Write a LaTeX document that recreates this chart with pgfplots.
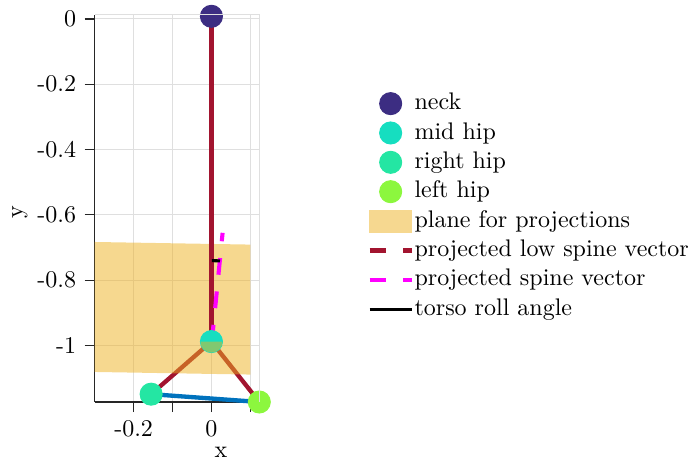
\documentclass[border=0pt]{standalone}
\usepackage{pgfplots}
\pgfplotsset{compat=1.18}
\definecolor{cneck}{RGB}{60,45,130}
\definecolor{cmid}{RGB}{22,222,192}
\definecolor{cmidT}{RGB}{128,200,112}
\definecolor{cright}{RGB}{36,230,163}
\definecolor{cleft}{RGB}{140,247,62}
\definecolor{cplane}{RGB}{237,177,32}
\definecolor{cplaneL}{RGB}{246,216,144}
\definecolor{cred}{RGB}{162,20,47}
\definecolor{cblue}{RGB}{0,114,189}
\definecolor{cmag}{RGB}{255,0,255}
\definecolor{cgrid}{RGB}{223,223,223}
\definecolor{caxis}{RGB}{38,38,38}
\pgfdeclareplotmark{lowhalf}{%
  \pgfpathmoveto{\pgfqpoint{\pgfplotmarksize}{0pt}}%
  \pgfpatharc{0}{-180}{\pgfplotmarksize}%
  \pgfpathclose
  \pgfusepathqfill}
\begin{document}
\begin{tikzpicture}
\useasboundingbox (-39.46pt,-27.08pt) rectangle (248.87pt,167.5pt);
\begin{axis}[
  at={(0,0)}, anchor=south west,
  scale only axis, width=68.58pt, height=161.38pt,
  xmin=-0.3, xmax=0.123, ymin=-1.173, ymax=0.013,
  axis x line*=bottom, axis y line*=left,
  axis line style={caxis, line width=0.5pt, -},
  xtick={-0.2,-0.1,0,0.1}, xticklabels={-0.2,,0,},
  ytick={-1,-0.8,-0.6,-0.4,-0.2,0}, yticklabels={-1,-0.8,-0.6,-0.4,-0.2,0},
  tick align=outside, major tick length=4.2pt,
  tick style={caxis, line width=0.5pt},
  grid=major, major grid style={cgrid, line width=0.4pt},
  xlabel={x}, ylabel={y},
  xlabel style={at={(axis description cs:0.767,0)}, anchor=center, yshift=-20.8pt},
  ylabel style={at={(axis description cs:0,0.49)}, anchor=center, yshift=31.2pt},
  clip=false,
  extra description/.code={\draw[cgrid, line width=0.5pt] (0,1) -- (1,1) -- (1,0);},
  legend cell align=left,
  legend style={draw=none, fill=none, at={(1.6545,0.8095)}, anchor=north west,
    inner sep=0pt, row sep=0pt, font=\normalsize,
    nodes={inner xsep=0.3pt, inner ysep=0.6pt, text height=8.03pt, text depth=3pt}},
  legend image code/.code={\draw[mark repeat=2,mark phase=2,#1] plot coordinates {(0pt,0pt) (8.75pt,0pt) (17.5pt,0pt)};},
]
% legend entries
\addlegendimage{only marks, mark=*, mark size=4.6pt, color=cneck}
\addlegendentry{neck}
\addlegendimage{only marks, mark=*, mark size=4.6pt, color=cmid}
\addlegendentry{mid hip}
\addlegendimage{only marks, mark=*, mark size=4.6pt, color=cright}
\addlegendentry{right hip}
\addlegendimage{only marks, mark=*, mark size=4.6pt, color=cleft}
\addlegendentry{left hip}
\addlegendimage{legend image code/.code={\fill[cplaneL] (0pt,-4.6pt) rectangle (17.5pt,4.6pt);}}
\addlegendentry{plane for projections}
\addlegendimage{cred, line width=1.8pt, dash pattern=on 7pt off 7pt}
\addlegendentry{projected low spine vector}
\addlegendimage{cmag, line width=1.8pt, dash pattern=on 7pt off 7pt}
\addlegendentry{projected spine vector}
\addlegendimage{black, line width=1.3pt}
\addlegendentry{torso roll angle}
% hip lines
\addplot[cred, line width=1.8pt, forget plot] coordinates {(-0.155,-1.149) (0,-0.988) (0.123,-1.173)};
% plane
\addplot[fill=cplane, fill opacity=0.5, draw=none, forget plot] coordinates {(-0.3,-0.683) (0.1,-0.691) (0.1,-1.089) (-0.3,-1.081)} -- cycle;
% spine
\addplot[cred, line width=1.8pt, forget plot] coordinates {(0,0.008) (0,-0.988)};
\addplot[cred, line width=1.8pt, dash pattern=on 7pt off 7pt, forget plot] coordinates {(0,-0.988) (0,-0.66)};
\addplot[cmag, line width=1.7pt, dash pattern=on 7pt off 7pt, forget plot] coordinates {(0.001,-0.988) (0.0287,-0.655)};
\addplot[black, line width=1.3pt, forget plot] coordinates {(0.001,-0.740) (0.022,-0.741)};
% mid hip marker (lower half seen through the plane)
\addplot[only marks, mark=*, mark size=4.6pt, color=cmid, forget plot] coordinates {(0,-0.988)};
\addplot[only marks, mark=lowhalf, mark size=4.6pt, mark options={fill=cmidT}, forget plot] coordinates {(0,-0.988)};
\addplot[only marks, mark=*, mark size=4.6pt, color=cneck, forget plot] coordinates {(0,0.008)};
\addplot[only marks, mark=*, mark size=4.6pt, color=cright, forget plot] coordinates {(-0.155,-1.149)};
\addplot[cblue, line width=1.8pt, forget plot] coordinates {(-0.155,-1.149) (0.123,-1.173)};
\addplot[only marks, mark=*, mark size=4.6pt, color=cleft, forget plot] coordinates {(0.123,-1.173)};
\end{axis}
\end{tikzpicture}
\end{document}
